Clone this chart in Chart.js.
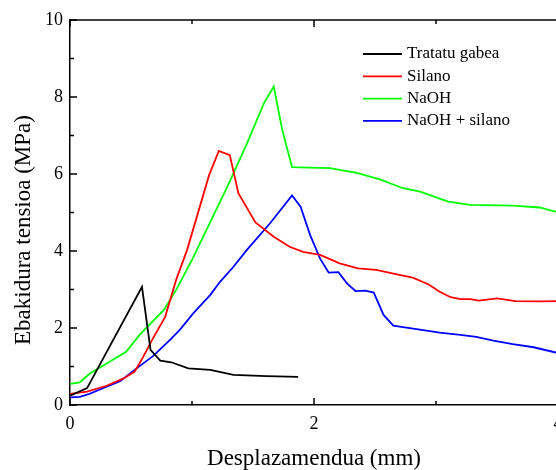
<!DOCTYPE html>
<html>
<head>
<meta charset="utf-8">
<script src="https://cdn.jsdelivr.net/npm/chart.js@4/dist/chart.umd.min.js"></script>
<style>
html,body{margin:0;padding:0;overflow:hidden;background:#fff;width:556px;height:470px;}
canvas{display:block;}
</style>
</head>
<body>
<canvas id="c" width="580" height="470"></canvas>
<script>
const seriesNames = ["Tratatu gabea", "Silano", "NaOH", "NaOH + silano"];
const seriesColors = ["#000000", "#ff0000", "#00ff00", "#0000ff"];

const blackX = [0, 0.14, 0.59, 0.66, 0.74, 0.83, 0.97, 1.15, 1.34, 1.61, 1.87];
const blackY = [0.24, 0.44, 3.07, 1.43, 1.15, 1.11, 0.95, 0.91, 0.78, 0.75, 0.73];

const redX = [0, 0.14, 0.3, 0.44, 0.53, 0.6, 0.68, 0.78, 0.87, 0.96, 1.14, 1.22, 1.31, 1.38, 1.52, 1.67, 1.8, 1.91, 2.05, 2.21, 2.36, 2.51, 2.68, 2.81, 2.94, 3.03, 3.12, 3.2, 3.28, 3.35, 3.5, 3.65, 3.85, 4.0];
const redY = [0.29, 0.35, 0.5, 0.69, 0.87, 1.25, 1.73, 2.29, 3.25, 4.03, 5.97, 6.6, 6.49, 5.5, 4.74, 4.37, 4.11, 3.98, 3.9, 3.68, 3.55, 3.51, 3.39, 3.31, 3.13, 2.94, 2.8, 2.75, 2.75, 2.71, 2.77, 2.7, 2.69, 2.7];

const greenX = [0, 0.08, 0.16, 0.3, 0.46, 0.57, 0.77, 0.87, 1.0, 1.29, 1.45, 1.59, 1.67, 1.74, 1.82, 2.05, 2.13, 2.35, 2.54, 2.73, 2.87, 3.1, 3.28, 3.63, 3.85, 4.0];
const greenY = [0.55, 0.59, 0.81, 1.08, 1.38, 1.82, 2.47, 2.99, 3.77, 5.67, 6.79, 7.84, 8.27, 7.14, 6.18, 6.16, 6.15, 6.03, 5.86, 5.63, 5.54, 5.28, 5.2, 5.18, 5.13, 5.0];

const blueX = [0, 0.08, 0.16, 0.25, 0.41, 0.57, 0.68, 0.82, 0.9, 1.01, 1.15, 1.23, 1.34, 1.45, 1.64, 1.82, 1.89, 1.97, 2.05, 2.12, 2.2, 2.27, 2.34, 2.42, 2.49, 2.57, 2.65, 2.73, 2.84, 3.03, 3.2, 3.33, 3.47, 3.63, 3.8, 4.0];
const blueY = [0.2, 0.21, 0.29, 0.41, 0.62, 1.01, 1.27, 1.69, 1.95, 2.38, 2.86, 3.2, 3.59, 4.03, 4.72, 5.44, 5.15, 4.4, 3.8, 3.44, 3.45, 3.16, 2.96, 2.97, 2.92, 2.34, 2.06, 2.02, 1.97, 1.88, 1.82, 1.77, 1.67, 1.58, 1.5, 1.35];

const xTitle = "Desplazamendua (mm)";
const yTitle = "Ebakidura tensioa (MPa)";
const xRange = [0, 4];
const yRange = [0, 10];

const allX = [blackX, redX, greenX, blueX];
const allY = [blackY, redY, greenY, blueY];

const FONT = "'Liberation Serif', 'Times New Roman', serif";

const datasets = seriesNames.map((n, i) => ({
  label: n,
  data: allX[i].map((x, j) => ({x: x, y: allY[i][j]})),
  borderColor: seriesColors[i],
  backgroundColor: seriesColors[i],
  borderWidth: 1.8,
  pointRadius: 0,
  tension: 0,
  fill: false
}));

const decor = {
  id: 'decor',
  afterDraw(chart) {
    const ctx = chart.ctx;
    const xs = chart.scales.x, ys = chart.scales.y;
    const ca = chart.chartArea;
    ctx.save();
    ctx.strokeStyle = '#000';
    ctx.lineWidth = 1.5;
    // top border
    ctx.beginPath();
    ctx.moveTo(ca.left, ca.top);
    ctx.lineTo(ca.right, ca.top);
    ctx.stroke();
    // ticks
    ctx.beginPath();
    xs.ticks.forEach(t => {
      const px = xs.getPixelForValue(t.value);
      const len = (Math.round(t.value) % 2 === 0) ? 7 : 4;
      ctx.moveTo(px, ca.bottom); ctx.lineTo(px, ca.bottom - len);
      ctx.moveTo(px, ca.top); ctx.lineTo(px, ca.top + len);
    });
    ys.ticks.forEach(t => {
      const py = ys.getPixelForValue(t.value);
      const len = (Math.round(t.value) % 2 === 0) ? 7 : 4;
      ctx.moveTo(ca.left, py); ctx.lineTo(ca.left + len, py);
    });
    ctx.stroke();
    // y title
    ctx.fillStyle = '#000';
    ctx.font = "23px " + FONT;
    ctx.textAlign = 'center';
    ctx.textBaseline = 'middle';
    ctx.translate(24, 230);
    ctx.rotate(-Math.PI / 2);
    ctx.fillText(yTitle, 0, 0);
    ctx.restore();
    // legend
    ctx.save();
    ctx.font = "17px " + FONT;
    ctx.textAlign = 'left';
    ctx.textBaseline = 'middle';
    chart.data.datasets.forEach((ds, i) => {
      const y = 54 + i * 22.3;
      ctx.strokeStyle = ds.borderColor;
      ctx.lineWidth = 1.8;
      ctx.beginPath();
      ctx.moveTo(363, y); ctx.lineTo(402, y);
      ctx.stroke();
      ctx.fillStyle = '#000';
      ctx.fillText(ds.label, 407, y);
    });
    ctx.restore();
  }
};

new Chart(document.getElementById('c'), {
  type: 'line',
  data: { datasets: datasets },
  options: {
    responsive: false,
    animation: false,
    layout: { padding: { top: 20, right: 22, left: 0, bottom: 0 } },
    plugins: { legend: { display: false }, tooltip: { enabled: false } },
    scales: {
      x: {
        type: 'linear',
        min: xRange[0], max: xRange[1],
        afterFit(s) { s.height = 65; },
        grid: { display: true, drawOnChartArea: false, drawTicks: false },
        border: { display: true, color: '#000', width: 1.5 },
        ticks: {
          stepSize: 1, autoSkip: false, maxRotation: 0, padding: 8,
          color: '#000', font: { family: FONT, size: 18 },
          callback: v => (Math.round(v) % 2 === 0 ? String(v) : '')
        },
        title: { display: true, text: xTitle, color: '#000', font: { family: FONT, size: 23, lineHeight: 1.0 }, padding: 0 }
      },
      y: {
        type: 'linear',
        min: yRange[0], max: yRange[1],
        afterFit(s) { s.width = 70; },
        grid: { display: true, drawOnChartArea: false, drawTicks: false },
        border: { display: true, color: '#000', width: 1.5 },
        ticks: {
          stepSize: 1, autoSkip: false, padding: 7,
          color: '#000', font: { family: FONT, size: 18 },
          callback: v => (Math.round(v) % 2 === 0 ? String(v) : '')
        }
      }
    }
  },
  plugins: [decor]
});
</script>
</body>
</html>
